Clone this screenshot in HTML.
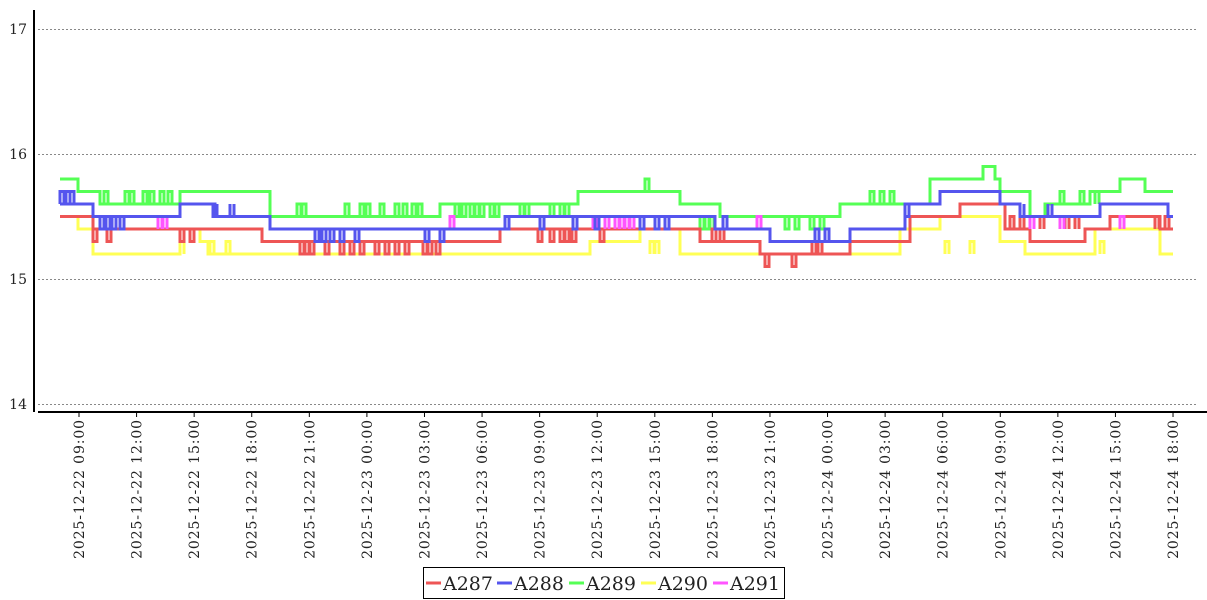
<!DOCTYPE html>
<html><head><meta charset="utf-8"><style>
html,body{margin:0;padding:0;background:#fff;width:1207px;height:600px;overflow:hidden}
text{font-family:"DejaVu Serif","Liberation Serif",serif}
</style></head><body>
<svg id="s" width="1207" height="600" xmlns="http://www.w3.org/2000/svg">
<g stroke="#888" stroke-dasharray="2,2" stroke-width="1">
<line x1="38" y1="29.5" x2="1197" y2="29.5"/>
<line x1="38" y1="154.5" x2="1197" y2="154.5"/>
<line x1="38" y1="279.5" x2="1197" y2="279.5"/>
<line x1="38" y1="404.5" x2="1197" y2="404.5"/>
</g>
<line x1="34" y1="10" x2="34" y2="412" stroke="#000" stroke-width="2"/>
<line x1="38" y1="412" x2="1207" y2="412" stroke="#000" stroke-width="2"/>
<g font-size="14" text-anchor="end" fill="#222">
<text x="27" y="34">17</text><text x="27" y="159">16</text><text x="27" y="284">15</text><text x="27" y="409">14</text>
</g>
<g id="ticks"></g>
<g id="series" fill="none" stroke-width="3" stroke-linejoin="miter"></g>
<rect x="423.5" y="567.5" width="361" height="31" fill="#fff" stroke="#000"/>
<g font-size="19" fill="#222">
<line x1="426" y1="583" x2="441" y2="583" stroke="#ee5555" stroke-width="3"/><text x="443" y="590">A287</text>
<line x1="497" y1="583" x2="512" y2="583" stroke="#5555ee" stroke-width="3"/><text x="514" y="590">A288</text>
<line x1="569" y1="583" x2="584" y2="583" stroke="#55ff55" stroke-width="3"/><text x="586" y="590">A289</text>
<line x1="641" y1="583" x2="656" y2="583" stroke="#ffff55" stroke-width="3"/><text x="658" y="590">A290</text>
<line x1="713" y1="583" x2="728" y2="583" stroke="#ff55ff" stroke-width="3"/><text x="730" y="590">A291</text>
</g>
</svg>
<script>
var NS="http://www.w3.org/2000/svg";
var days=["2025-12-22","2025-12-23","2025-12-24"];
var tg=document.getElementById("ticks");
for(var i=0;i<20;i++){
 var x=79+i*57.58;var h=(9+3*i)%24;var d=Math.floor((9+3*i)/24);
 var l=document.createElementNS(NS,"line");l.setAttribute("x1",x);l.setAttribute("x2",x);l.setAttribute("y1",412);l.setAttribute("y2",417);l.setAttribute("stroke","#000");tg.appendChild(l);
 var t=document.createElementNS(NS,"text");t.setAttribute("transform","translate("+(x+5)+",419) rotate(-90)");t.setAttribute("text-anchor","end");t.setAttribute("font-size","14");t.setAttribute("letter-spacing","0.9");t.setAttribute("fill","#222");t.setAttribute("xml:space","preserve");
 t.textContent=days[d]+"  "+(h<10?"0":"")+h+":00";tg.appendChild(t);
}
function Y(v){return 279-(v-15)*125;}
function step(a){var p="M"+a[0][0]+","+Y(a[0][1]);for(var i=1;i<a.length;i++){p+=" H"+a[i][0]+" V"+Y(a[i][1]);}p+=" H1173";return p;}
function spikes(xs,v0,v1){var p="";xs.forEach(function(x){p+=" M"+x+","+Y(v0)+" V"+Y(v1)+" H"+(x+4)+" V"+Y(v0);});return p;}
var S=[
["#ffff55",step([[60,15.5],[78,15.4],[93,15.2],[180,15.4],[200,15.3],[208,15.2],[590,15.3],[640,15.4],[680,15.2],[900,15.4],[940,15.5],[1000,15.3],[1025,15.2],[1095,15.4],[1160,15.2]])+spikes([180,210,226,650,655,945,970,1100],15.2,15.3)],
["#55ff55",step([[60,15.8],[78,15.7],[100,15.6],[180,15.7],[270,15.5],[440,15.6],[578,15.7],[680,15.6],[720,15.5],[840,15.6],[930,15.8],[983,15.9],[995,15.8],[1000,15.7],[1030,15.5],[1045,15.6],[1090,15.7],[1120,15.8],[1145,15.7]])+spikes([60,66,70,104,125,130,143,150,160,168],15.6,15.7)+spikes([297,302,345,360,366,380,395,403,412,418],15.5,15.6)+spikes([455,462,470,475,480,490,495,520,525,550,560,565],15.6,15.5)+spikes([645],15.7,15.8)+spikes([700,705,710,785,795,810,820],15.5,15.4)+spikes([870,880,890,1060,1080,1095],15.6,15.7)],
["#ee5555",step([[60,15.5],[93,15.4],[200,15.4],[262,15.3],[500,15.4],[700,15.3],[760,15.2],[850,15.3],[910,15.5],[960,15.6],[1005,15.4],[1030,15.3],[1085,15.4],[1110,15.5],[1160,15.4]])+spikes([93,107,180,190],15.4,15.3)+spikes([300,305,310,325,340,350,360,375,385,395,405,423,428,436],15.3,15.2)+spikes([538,550,560,565,572,600],15.4,15.3)+spikes([712,720],15.3,15.4)+spikes([765,792],15.2,15.1)+spikes([812,818],15.2,15.3)+spikes([1010,1020,1040,1065,1075,1155,1165],15.4,15.5)],
["#ff55ff",spikes([158,163,450,593,605,615,620,625,630,757,1030,1060,1120],15.4,15.5)],
["#5555ee",step([[60,15.6],[93,15.5],[180,15.6],[215,15.5],[270,15.4],[505,15.5],[650,15.5],[715,15.4],[770,15.3],[850,15.4],[905,15.6],[940,15.7],[1000,15.6],[1020,15.5],[1085,15.5],[1100,15.6],[1168,15.5]])+spikes([60,66,70],15.6,15.7)+spikes([100,106,112,120],15.5,15.4)+spikes([213,230],15.6,15.5)+spikes([315,322,330,340,355,425,440],15.4,15.3)+spikes([505,540,573,595,640,655,665],15.5,15.4)+spikes([723],15.4,15.5)+spikes([815,825],15.3,15.4)+spikes([905,1020,1048],15.6,15.5)]
];
var g=document.getElementById("series");
S.forEach(function(s){var p=document.createElementNS(NS,"path");p.setAttribute("d",s[1]);p.setAttribute("stroke",s[0]);g.appendChild(p);});
</script>
</body></html>
